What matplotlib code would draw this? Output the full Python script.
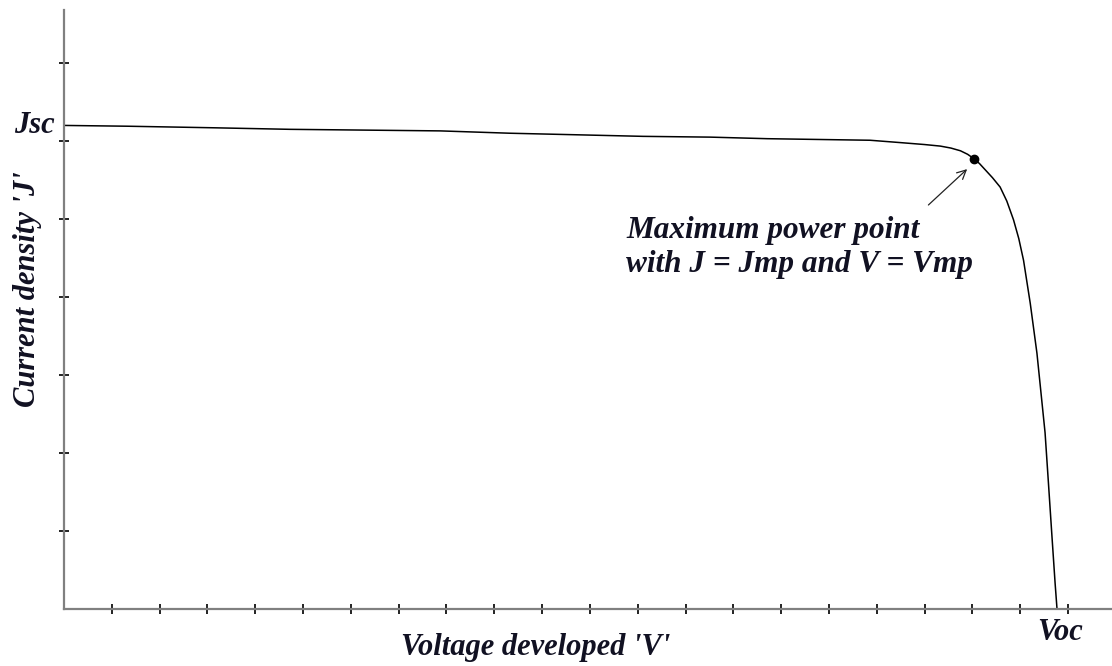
import matplotlib.pyplot as plt

# J-V curve (arbitrary units, 1 unit = one tick)
voltage = [0, 1.32, 3.12, 4.73, 6.30, 7.87, 9.33, 10.73, 12.11, 13.52, 14.71,
           16.86, 17.49, 18.00, 18.33, 18.55, 18.75, 18.90, 19.04, 19.15,
           19.27, 19.42, 19.58, 19.72, 19.86, 19.97, 20.07, 20.21, 20.35,
           20.45, 20.52, 20.59, 20.66, 20.73, 20.77]
current = [6.20, 6.19, 6.17, 6.15, 6.14, 6.13, 6.10, 6.08, 6.06, 6.05, 6.03,
           6.01, 5.98, 5.955, 5.935, 5.91, 5.875, 5.83, 5.77, 5.71,
           5.63, 5.53, 5.41, 5.23, 4.99, 4.75, 4.47, 3.92, 3.28,
           2.68, 2.26, 1.62, 0.97, 0.33, 0.0]
mpp_v, mpp_j = 19.04, 5.77
jsc = 6.20
voc = 20.77
x_ticks = list(range(1, 22))
y_ticks = list(range(1, 8))

serif = 'Liberation Serif'

fig = plt.figure(figsize=(11.12, 6.66), dpi=100)
ax = fig.add_axes([64 / 1112, 57 / 666, 1048 / 1112, 599 / 666])

ax.plot(voltage, current, color='black', lw=1.1)
ax.plot(mpp_v, mpp_j, 'o', color='black', ms=6)

ax.set_xlim(0, 21.92)
ax.set_ylim(0, 7.68)

for side in ['top', 'right']:
    ax.spines[side].set_visible(False)
for side in ['left', 'bottom']:
    ax.spines[side].set_color('#808080')
    ax.spines[side].set_linewidth(1.6)

ax.set_xticks(x_ticks)
ax.set_yticks(y_ticks)
ax.set_xticklabels([])
ax.set_yticklabels([])
ax.tick_params(direction='inout', length=7, width=1.4, color='#222222')

txt = dict(family=serif, weight='bold', style='italic', color='#111122')

# arrow to the maximum power point
ax.annotate('', xy=(18.89, 5.64), xytext=(18.08, 5.18),
            arrowprops=dict(arrowstyle='->', color='#222222', lw=0.9,
                            shrinkA=0, shrinkB=0, mutation_scale=16))
ax.text(11.76, 4.756, 'Maximum power point', ha='left', va='baseline',
        fontsize=22.5, **txt)
ax.text(11.76, 4.32, 'with J = Jmp and V = Vmp', ha='left', va='baseline',
        fontsize=22.5, **txt)

ax.text(-0.2, jsc, 'Jsc', ha='right', va='center', fontsize=22, **txt)
ax.text(20.83, -0.40, 'Voc', ha='center', va='baseline', fontsize=22, **txt)

fig.text(536 / 1112, 1 - 655 / 666, "Voltage developed 'V'", ha='center',
         va='baseline', fontsize=22, **txt)
fig.text(27 / 1112, 1 - 289 / 666, "Current density 'J'", ha='center',
         va='center', rotation=90, fontsize=22, **txt)

plt.savefig('out.png', dpi=100)
